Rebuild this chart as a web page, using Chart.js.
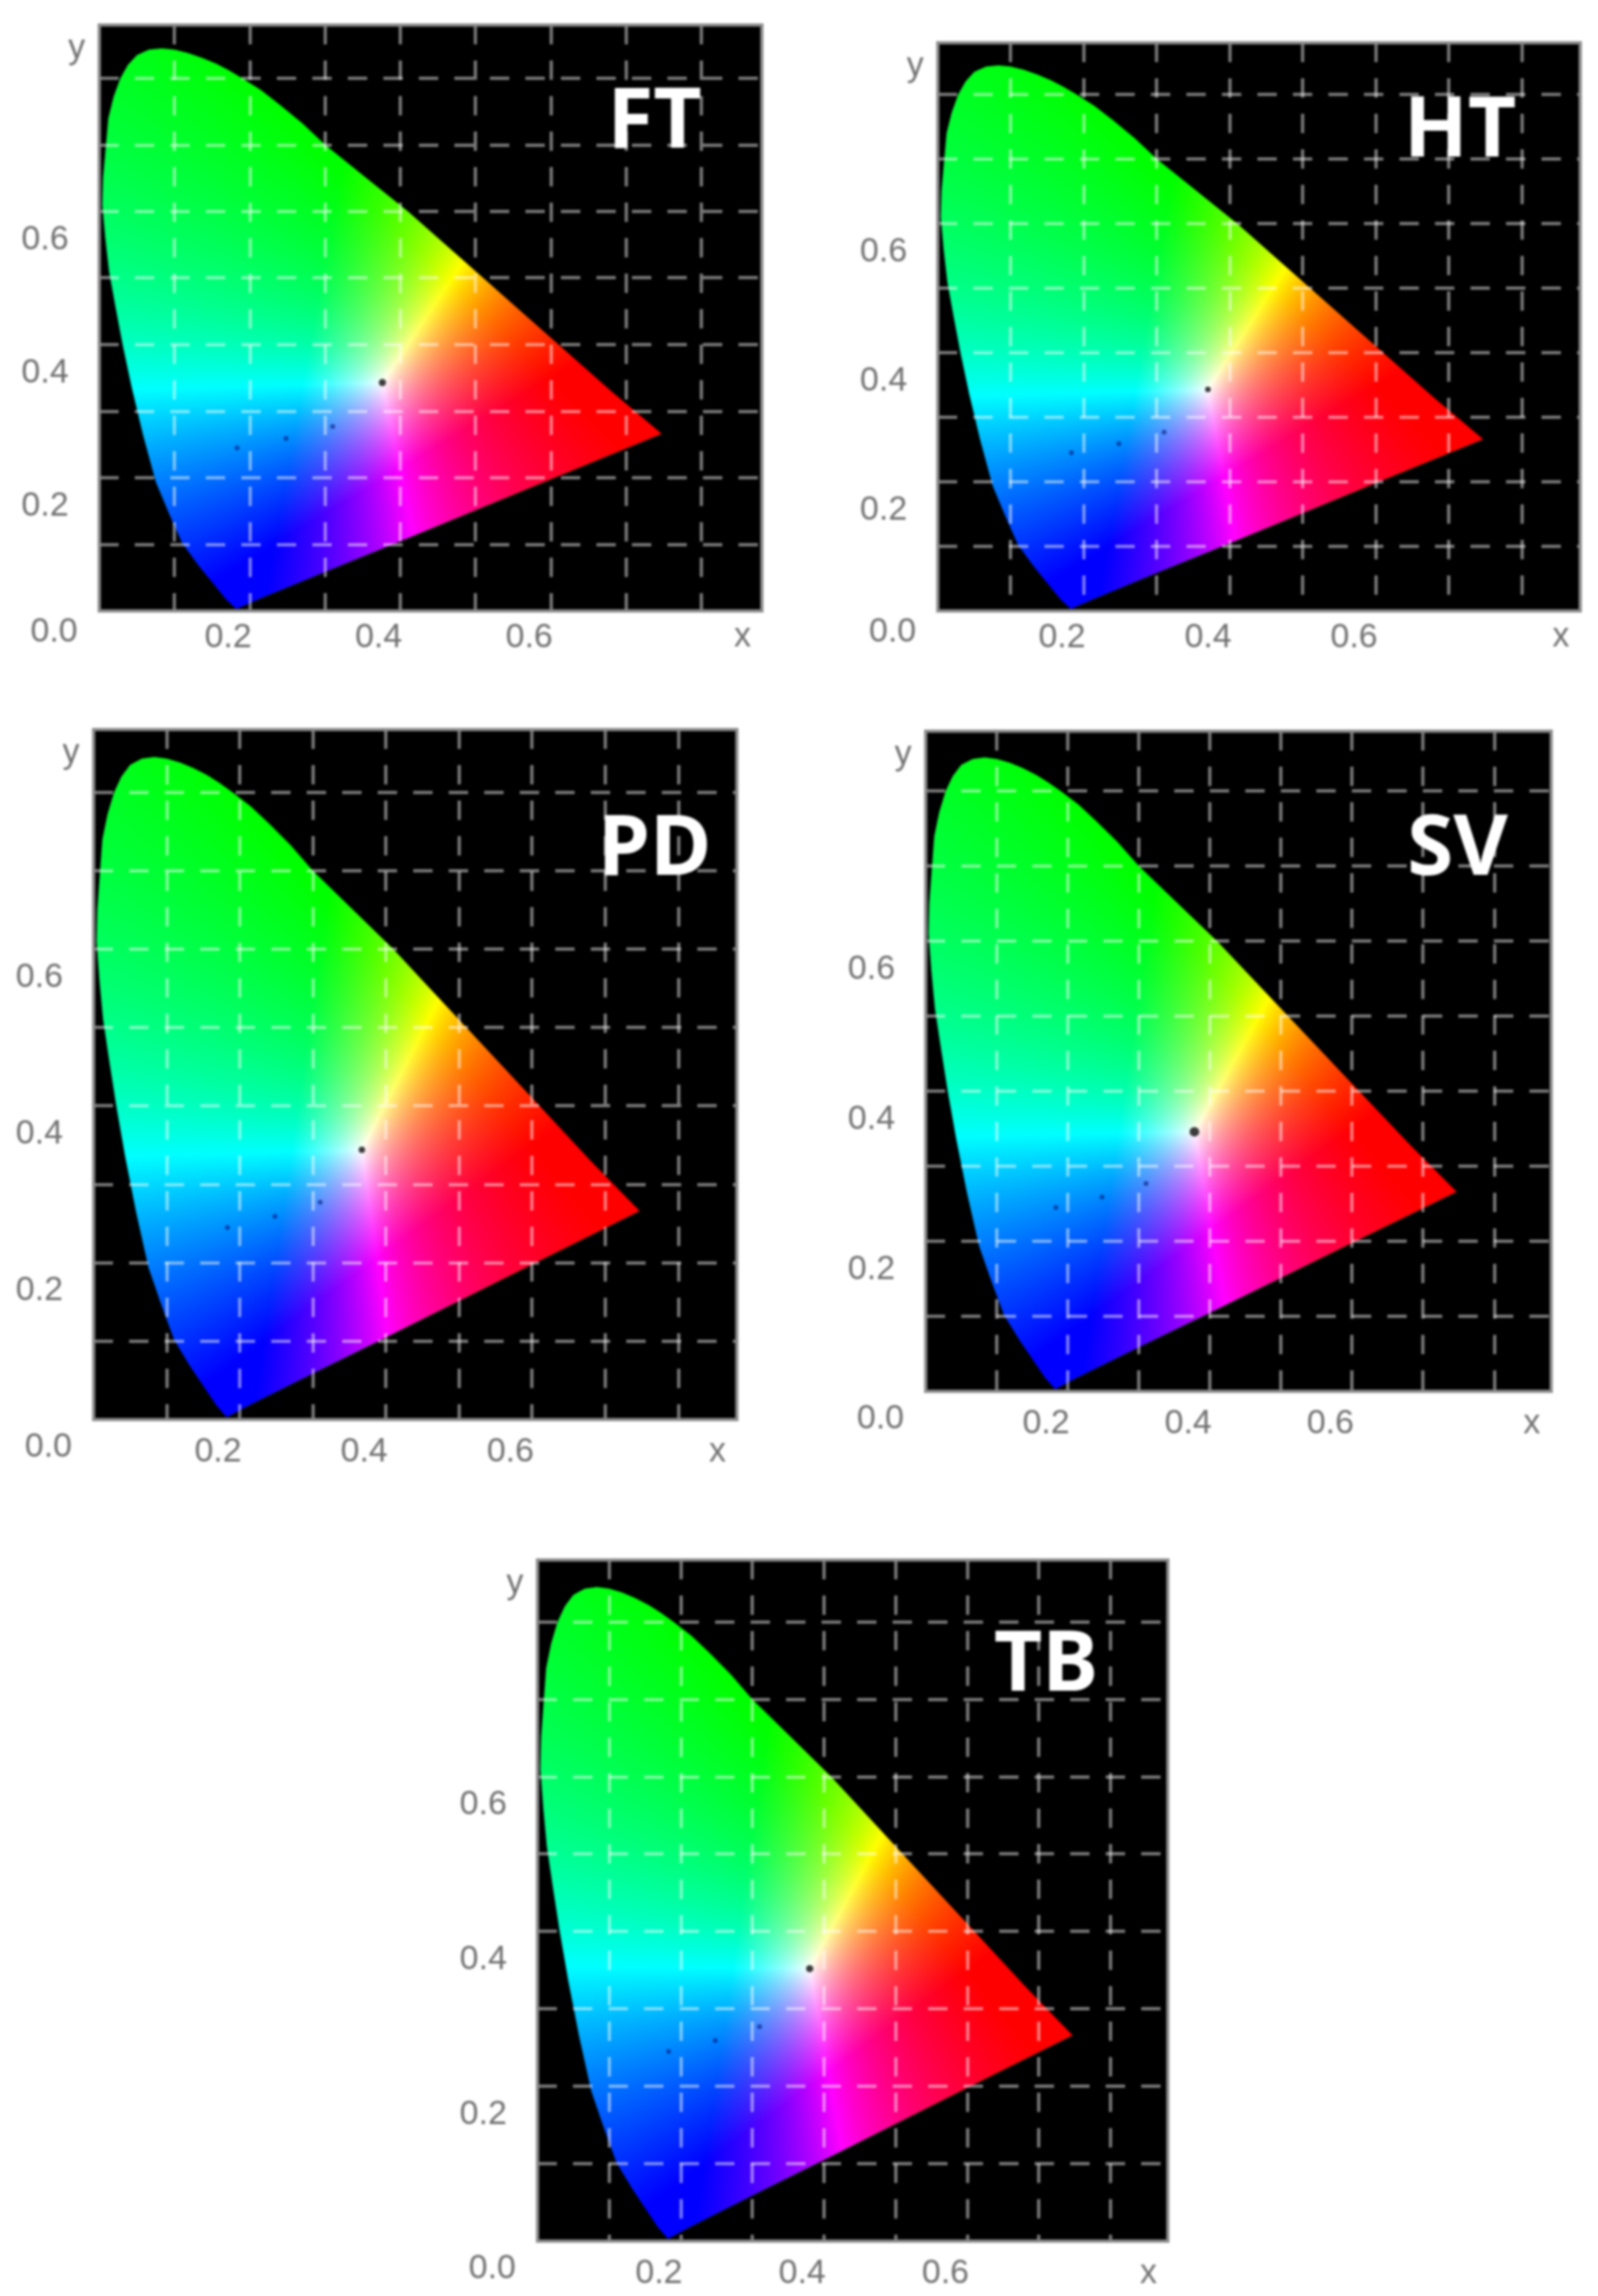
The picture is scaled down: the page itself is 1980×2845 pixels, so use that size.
<!DOCTYPE html>
<html><head><meta charset="utf-8">
<style>
html,body{margin:0;padding:0;background:#fff;width:1980px;height:2845px;overflow:hidden}
#stage{position:relative;width:1980px;height:2845px}
.p{position:absolute;filter:blur(1.8px)}
</style>
<script src="https://cdn.jsdelivr.net/npm/chart.js@4"></script>
</head><body><div id="stage"></div>
<script>
// ---- data ----
const panelNames = ['FT','HT','PD','SV','TB'];
const locusX = [.182,.168,.155,.132,.110,.092,.075,.058,.043,.031,.0215,.013,.008,.004,.005,.012,.019,.028,.038,.050,.066,.083,.100,.118,.136,.155,.172,.190,.215,.240,.270,.300,.355,.410,.460,.510,.560,.610,.680,.747,.600,.400,.298,.210];
const locusY = [.003,.018,.036,.068,.102,.148,.194,.265,.336,.400,.457,.510,.560,.610,.650,.740,.772,.800,.820,.835,.843,.845,.843,.838,.831,.822,.812,.800,.782,.760,.732,.700,.650,.600,.550,.500,.450,.400,.330,.266,.198,.105,.058,.017];
const whiteX = [.376,.370,.367,.378,.380];
const whiteY = [.343,.343,.344,.346,.352];
const spotX = [.183,.248,.310];
const spotY = [.245,.259,.277];
const axisTicks = [.2,.4,.6];
const axisMax = .88;
const gridStep = .1;

// ---- layout of each panel (plot box in page pixels) ----
const boxes = [
 {l:123,t:31,r:944,b:757,pad:8,dy:24,nameX:811,nameY:153,dot:4.5},
 {l:1162,t:53,r:1958,b:757,pad:8,dy:24,nameX:1809,nameY:164,dot:3.5},
 {l:116,t:904,r:913,b:1759,pad:15,dy:32,nameX:811,nameY:1054,dot:4},
 {l:1147,t:906,r:1922,b:1724,pad:15,dy:32,nameX:1806,nameY:1054,dot:6},
 {l:666,t:1933,r:1447,b:2777,pad:15,dy:32,nameX:1296,nameY:2065,dot:4.5}
];
const M = {l:110,r:30,t:25,b:70};
const primR=[.60,.35], primG=[.32,.66], primB=[.233,.10];
const shade=.95;

function inv3(m){
 const [a,b,c,d,e,f,g,h,i]=m, A=e*i-f*h,B=f*g-d*i,C=d*h-e*g, det=a*A+b*B+c*C;
 return [A/det,(c*h-b*i)/det,(b*f-c*e)/det,B/det,(a*i-c*g)/det,(c*d-a*f)/det,C/det,(b*g-a*h)/det,(a*e-b*d)/det];
}
const Mi = inv3([primR[0],primG[0],primB[0],primR[1],primG[1],primB[1],1,1,1]);
const bary=(x,y)=>[Mi[0]*x+Mi[1]*y+Mi[2],Mi[3]*x+Mi[4]*y+Mi[5],Mi[6]*x+Mi[7]*y+Mi[8]];

const gamutPlugin = {
 id:'gamut',
 beforeDatasetsDraw(chart,args,opts){
  const {ctx,chartArea:a,scales:{x:sx,y:sy}}=chart;
  ctx.save();
  ctx.fillStyle='#000';
  ctx.fillRect(a.left,a.top,a.right-a.left,a.bottom-a.top);
  const w=Math.ceil(a.right-a.left),h=Math.ceil(a.bottom-a.top);
  const off=document.createElement('canvas');off.width=w;off.height=h;
  const oc=off.getContext('2d'),img=oc.createImageData(w,h);
  const W=bary(opts.wx,opts.wy);
  for(let j=0;j<h;j++){const vy=sy.getValueForPixel(a.top+j+.5);
   for(let i=0;i<w;i++){const vx=sx.getValueForPixel(a.left+i+.5);
    const l=bary(vx,vy);
    let r=Math.max(0,l[0]/W[0]),g=Math.max(0,l[1]/W[1]),b=Math.max(0,l[2]/W[2]);
    const m=Math.max(r,g,b,1e-6);
    const k=(i+j*w)*4;
    img.data[k]=255*Math.pow(r/m,shade);img.data[k+1]=255*Math.pow(g/m,shade);img.data[k+2]=255*Math.pow(b/m,shade);img.data[k+3]=255;
   }}
  oc.putImageData(img,0,0);
  const pts=chart.getDatasetMeta(0).data;
  ctx.beginPath();
  pts.forEach((p,i)=>i?ctx.lineTo(p.x,p.y):ctx.moveTo(p.x,p.y));
  ctx.closePath();ctx.clip();
  ctx.drawImage(off,a.left,a.top);
  ctx.restore();
 },
 afterDraw(chart,args,opts){
  const {ctx,chartArea:a}=chart;
  ctx.save();
  ctx.strokeStyle='#8c8c8c';ctx.lineWidth=4;
  ctx.strokeRect(a.left,a.top,a.right-a.left,a.bottom-a.top);
  ctx.textAlign='center';ctx.textBaseline='middle';
  ctx.fillStyle='#707070';ctx.font='42px "Liberation Sans"';
  ctx.fillText('0.0',a.left-56,a.bottom+opts.dy+2);
  ctx.fillText('x',a.right-24,a.bottom+opts.dy+8);
  ctx.fillText('y',a.left-28,a.top+29);
  ctx.fillStyle='#fff';ctx.font='bold 104px "Noto Sans"';
  ctx.fillText(opts.name,a.left+opts.nx,a.top+opts.ny);
  ctx.restore();
 }
};

const stage=document.getElementById('stage');
const locusPts=locusX.map((x,i)=>({x,y:locusY[i]}));
const spotPts=spotX.map((x,i)=>({x,y:spotY[i]}));
panelNames.forEach((name,idx)=>{
 const B=boxes[idx];
 const c=document.createElement('canvas');
 const cw=B.r-B.l+M.l+M.r, ch=B.b-B.t+M.t+M.b;
 c.className='p';c.style.left=(B.l-M.l)+'px';c.style.top=(B.t-M.t)+'px';
 c.style.width=cw+'px';c.style.height=ch+'px';c.width=cw;c.height=ch;
 stage.appendChild(c);
 const tick=v=>{const t=axisTicks.find(a=>Math.abs(a-v)<1e-6);return t?t.toFixed(1):'';};
 const gridColor=ctx=>Math.abs(ctx.tick.value)<1e-6?'rgba(0,0,0,0)':'rgba(255,255,255,.48)';
 const chart=new Chart(c,{
  type:'scatter',
  plugins:[gamutPlugin],
  data:{datasets:[
   {data:locusPts,pointRadius:0,showLine:false},
   {data:[{x:whiteX[idx],y:whiteY[idx]}],pointRadius:B.dot,pointBackgroundColor:'#3c3c3c',pointBorderWidth:0},
   {data:spotPts,pointRadius:3,pointBackgroundColor:'rgba(0,20,120,.6)',pointBorderWidth:0}
  ]},
  options:{
   responsive:false,animation:false,
   layout:{autoPadding:false,padding:{top:M.t,right:M.r,left:0,bottom:0}},
   plugins:{legend:{display:false},tooltip:{enabled:false},
    gamut:{wx:whiteX[idx],wy:whiteY[idx],name,nx:B.nameX-B.l,ny:B.nameY-B.t,dy:B.dy}},
   scales:{
    x:{type:'linear',min:0,max:axisMax,border:{display:false,dash:[24,20]},
     afterFit:s=>{s.height=M.b;s.paddingLeft=0;s.paddingRight=0;},
     grid:{z:1,color:gridColor,lineWidth:4,drawTicks:false},
     ticks:{stepSize:gridStep,includeBounds:false,autoSkip:false,maxRotation:0,minRotation:0,padding:B.pad,labelOffset:-27,color:'#707070',font:{family:'"Liberation Sans"',size:42},callback:tick}},
    y:{type:'linear',min:0,max:axisMax,border:{display:false,dash:[24,20]},
     afterFit:s=>{s.width=M.l;s.paddingTop=0;s.paddingBottom=0;},
     grid:{z:1,color:gridColor,lineWidth:4,drawTicks:false},
     ticks:{stepSize:gridStep,includeBounds:false,autoSkip:false,padding:38,labelOffset:35,color:'#707070',font:{family:'"Liberation Sans"',size:42},callback:tick}}
   }
  }
 });
 // pin the plot box to its page position whatever the layout reserved above it
 const a=chart.chartArea;
 const extra=a.top-M.t;
 if(Math.abs(extra)>.5){
  chart.resize(cw,ch+extra);
 }
 c.style.top=(B.t-chart.chartArea.top)+'px';
 c.style.left=(B.l-chart.chartArea.left)+'px';
});
</script></body></html>
